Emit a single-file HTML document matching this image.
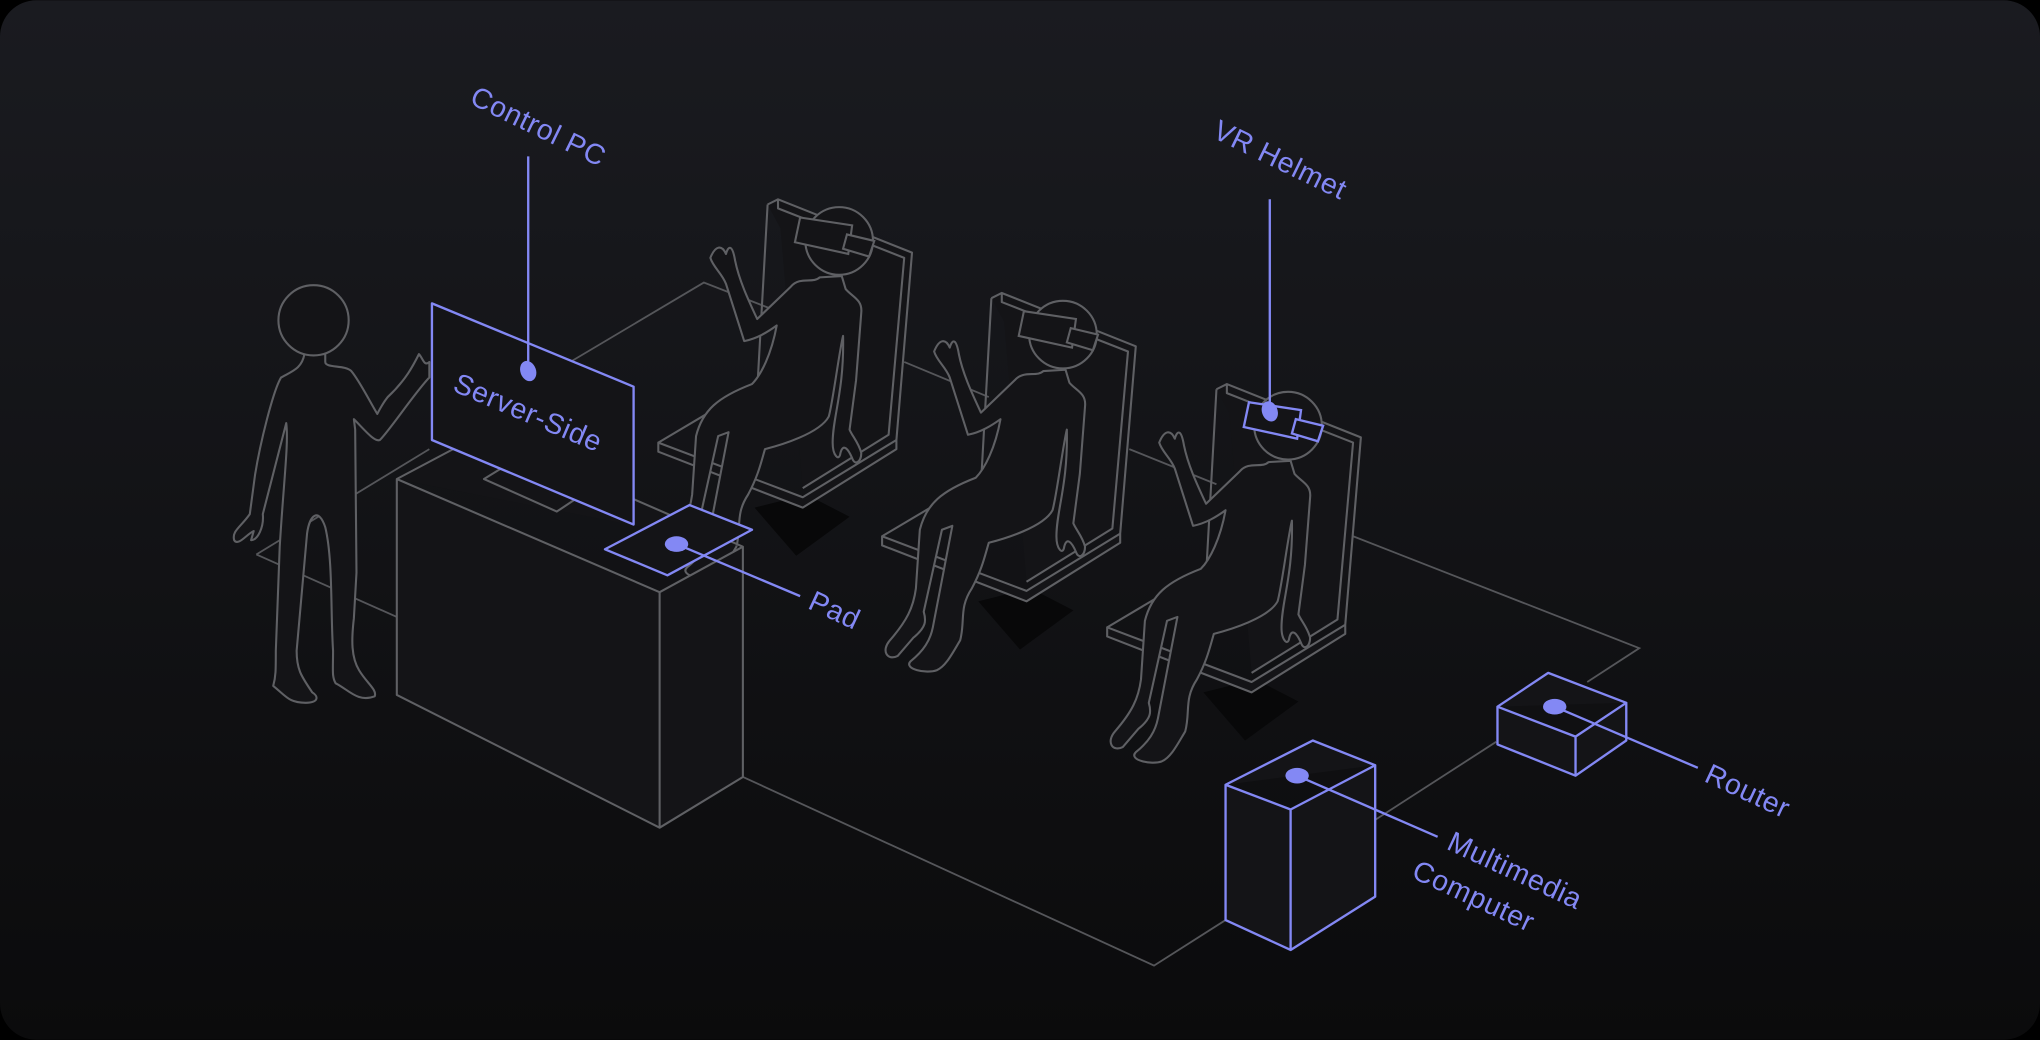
<!DOCTYPE html>
<html><head><meta charset="utf-8"><style>
html,body{margin:0;padding:0;background:#000;}
svg{display:block}
text{font-family:"Liberation Sans","DejaVu Sans",sans-serif;fill:#8388f4;font-size:22px;letter-spacing:0.5px}
</style></head><body>
<svg width="2040" height="1040" viewBox="0 0 1568 799" xmlns="http://www.w3.org/2000/svg">
<defs>
<linearGradient id="bg" x1="0" y1="0" x2="0" y2="1">
<stop offset="0" stop-color="#1a1b20"/><stop offset="1" stop-color="#0b0b0c"/>
</linearGradient>
<g id="seat">
<polygon points="580,390 612,427 653,397 620,380" fill="#080809" stroke="none"/>
<path d="M590,157 L598,153 L701,194 L689,338 L617,382 L506,340 L506,347 L617,390 L689,345 L689,338 M506,340 L560,308 M598,153 L598,160 L695,198 L683,334 L617,375 M590,157 L582,300" fill="#141417" stroke="#5f6064" stroke-width="1.6" stroke-linejoin="round"/>
<path d="M630,213 C625,218 615,212 608,220 L582,245 C575,230 568,215 565,200 C563,188 560,188 558,195 C555,188 550,188 546,198 C548,205 555,210 558,218 L572,262 C582,260 590,255 597,250 C593,272 585,288 578,295 C552,305 540,315 535,335 L532,380 C530,395 525,405 512,420 C505,428 510,436 518,432 L530,418 C540,410 540,405 538,398 L552,335 L560,332 L545,410 C543,420 538,428 528,436 C522,442 540,446 548,443 C555,440 560,430 566,420 C570,405 565,395 575,380 C583,365 585,355 588,345 C600,342 630,333 637,320 C640,310 645,270 648,258 C649,300 640,320 640,340 C640,350 645,355 646,348 C648,340 652,345 655,352 C657,358 662,355 662,348 C660,340 655,335 653,330 L658,292 L662,240 C663,230 655,228 650,222 L647,212 Z" fill="#141417" stroke="#5f6064" stroke-width="1.6" stroke-linejoin="round"/>
<circle cx="645" cy="185" r="26" fill="#141417" stroke="#5f6064" stroke-width="1.6"/>
</g>
<g id="gog">
<polygon points="615,167 655,173 652,195 611,186" fill="#141417"/>
<polygon points="651,180 672,185 668,197 648,191" fill="#141417"/>
</g>
</defs>
<rect x="0" y="0" width="1568" height="799" rx="28" fill="url(#bg)"/>
<g fill="none" stroke="#55565a" stroke-width="1.4">
<path d="M197,426 L305,474 M197,426 L330,345 M440,277 L541,217 L600,240 M695,278 L760,305 M868,345 L935,372 M1040,412 L1260,498 L1220,524 M1150,570 L1057,630 M571,597 L887,742 L942,707"/>
</g>
<use href="#seat"/>
<use href="#seat" transform="translate(172,72)"/>
<use href="#seat" transform="translate(345,142)"/>
<g stroke="#5f6064" stroke-width="1.6" fill="#141417">
<use href="#gog"/>
<use href="#gog" transform="translate(172,72)"/>
</g>
<g transform="translate(345,142)" fill="#141417" stroke="#8388f4" stroke-width="1.8">
<polygon points="615,167 655,173 652,195 611,186"/>
<polygon points="651,180 672,185 668,197 648,191"/>
</g>
<g fill="#141417" stroke="#5f6064" stroke-width="1.6" stroke-linejoin="round">
<path d="M234,272 C232,283 225,285 216,290 C210,300 200,340 196,365 L192,395 C185,405 178,408 180,415 C183,420 190,410 195,408 L193,415 C198,415 203,405 202,395 L220,325 C222,340 218,370 215,420 L212,500 C212,515 212,520 210,527 C220,535 222,540 235,540 C245,540 245,535 240,532 C232,520 228,515 228,500 L236,410 C238,395 245,390 250,405 C256,430 254,470 256,500 C256,515 255,520 258,525 C268,530 275,540 288,535 C290,530 282,525 276,515 C270,505 270,492 272,475 L274,440 L273,330 L272,322 C280,330 288,340 292,338 C300,330 320,300 330,290 L330,278 C326,282 325,275 322,272 C318,280 312,292 298,305 C294,310 290,318 290,318 C284,308 276,292 270,285 C265,280 250,283 250,278 L250,272 Z"/>
<circle cx="241" cy="246" r="27"/>
<path d="M305,368 L371,333 L571,420 L571,597 L507,636 L305,534 Z M305,368 L507,455 L571,420 M507,455 L507,636"/>
<path d="M372,368 L428,393 L443,383 L385,360 Z"/>
</g>
<g fill="#141417" stroke="#8388f4" stroke-width="1.8" stroke-linejoin="round">
<polygon points="332,233 487,297 487,403 332,338"/>
<polygon points="465,422 530,388 578,407 513,442"/>
<path d="M1151,543 L1190,517 L1250,540 L1211,566 Z M1151,543 L1151,572 L1211,596 L1250,569 L1250,540 M1211,566 L1211,596"/>
<path d="M942,603 L1009,569 L1057,588 L992,622 Z M942,603 L942,707 L992,730 L1057,689 L1057,588 M992,622 L992,730"/>
</g>
<g stroke="#8388f4" stroke-width="1.8" fill="none">
<path d="M406,120 L406,285 M520,418 L615,458 M1195,543 L1305,590 M997,596 L1105,643 M976,153 L976,315"/>
</g>
<g fill="#8388f4">
<ellipse cx="406" cy="285" rx="6" ry="8" transform="rotate(-20 406 285)"/>
<ellipse cx="520" cy="418" rx="9" ry="6"/>
<ellipse cx="1195" cy="543" rx="9" ry="6"/>
<ellipse cx="997" cy="596" rx="9" ry="6"/>
<ellipse cx="976" cy="316" rx="6" ry="8" transform="rotate(-20 976 316)"/>
</g>
<text transform="translate(360,79) rotate(26)">Control PC</text>
<text transform="translate(931,105) rotate(26)">VR Helmet</text>
<text transform="translate(347,300) rotate(23)">Server-Side</text>
<text transform="translate(620,467) rotate(25)">Pad</text>
<text transform="translate(1309,600) rotate(25)">Router</text>
<text transform="translate(1111,652) rotate(25)">Multimedia</text>
<text transform="translate(1084,674) rotate(25)">Computer</text>
</svg>
</body></html>
